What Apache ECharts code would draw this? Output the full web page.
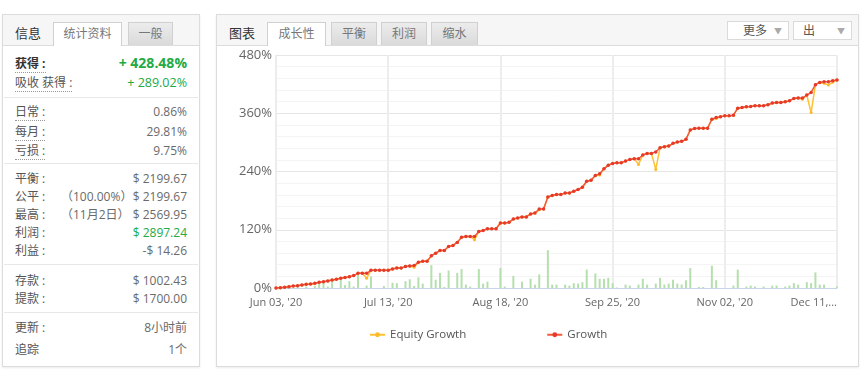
<!DOCTYPE html>
<html>
<head>
<meta charset="utf-8">
<script src="https://cdn.jsdelivr.net/npm/echarts@6/dist/echarts.min.js"></script>
<style>
html,body{margin:0;padding:0;background:#fff;width:862px;height:370px;overflow:hidden;font-family:"Open Sans","Noto Sans CJK SC",sans-serif;}
.panel{position:absolute;border:1px solid #dcdcdc;background:#fff;box-shadow:0 1px 2px rgba(0,0,0,0.08);}
.hdr{position:absolute;left:0;right:0;top:0;height:30px;background:#f6f6f6;border-bottom:1px solid #dcdcdc;}
.t{position:absolute;white-space:nowrap;font-size:12px;line-height:16px;}
.tab{position:absolute;top:7px;height:23px;border:1px solid #d0d0d0;border-bottom:none;font-size:12px;color:#777;text-align:center;line-height:22px;box-sizing:border-box;}
.tab.on{background:#fff;height:24px;}
.tab.off{background:linear-gradient(#ececec,#dadada);}
.lbl{color:#555;}
.val{color:#6a6a6a;text-align:right;}
.dot{border-bottom:1px dotted #999;}
.sep{position:absolute;left:1px;right:1px;height:1px;background:#e8e8e8;}
.dd{position:absolute;top:6px;height:19px;border:1px solid #dadada;background:#fff;box-sizing:border-box;font-size:12px;color:#555;line-height:17px;}
.dd .ar{position:absolute;right:6px;top:0;color:#aaa;font-size:8px;}
#chart{position:absolute;left:0;top:0;width:862px;height:370px;}
</style>
</head>
<body>
<div class="panel" style="left:2px;top:14px;width:196px;height:351px;">
  <div class="hdr"></div>
  <div class="t" style="left:12px;top:10px;color:#333;font-size:13px;">信息</div>
  <div class="tab on" style="left:50px;width:69px;">统计资料</div>
  <div class="tab off" style="left:125px;width:45px;">一般</div>

  <div class="t lbl" style="left:12px;top:41px;color:#333;font-weight:bold;font-size:12px;"><span class="dot">获得 :</span></div>
  <div class="t" style="right:12px;top:40px;color:#22aa44;font-weight:bold;font-size:14px;">+ 428.48%</div>
  <div class="t lbl" style="left:12px;top:60px;"><span class="dot">吸收 获得 :</span></div>
  <div class="t" style="right:12px;top:60px;color:#22aa44;font-size:12.5px;">+ 289.02%</div>
  <div class="sep" style="top:82px;"></div>

  <div class="t lbl" style="left:12px;top:89px;"><span class="dot">日常 :</span></div>
  <div class="t val" style="right:12px;top:89px;">0.86%</div>
  <div class="t lbl" style="left:12px;top:109px;"><span class="dot">每月 :</span></div>
  <div class="t val" style="right:12px;top:109px;">29.81%</div>
  <div class="t lbl" style="left:12px;top:128px;"><span class="dot">亏损 :</span></div>
  <div class="t val" style="right:12px;top:128px;">9.75%</div>
  <div class="sep" style="top:148px;"></div>

  <div class="t lbl" style="left:12px;top:156px;">平衡 :</div>
  <div class="t val" style="right:12px;top:156px;">$ 2199.67</div>
  <div class="t lbl" style="left:12px;top:174px;">公平 :</div>
  <div class="t val" style="left:58px;top:174px;">（100.00%）</div>
  <div class="t val" style="right:12px;top:174px;">$ 2199.67</div>
  <div class="t lbl" style="left:12px;top:192px;">最高 :</div>
  <div class="t val" style="left:58px;top:192px;">（11月2日）</div>
  <div class="t val" style="right:12px;top:192px;">$ 2569.95</div>
  <div class="t lbl" style="left:12px;top:210px;">利润 :</div>
  <div class="t" style="right:12px;top:210px;color:#22aa44;">$ 2897.24</div>
  <div class="t lbl" style="left:12px;top:228px;">利益 :</div>
  <div class="t val" style="right:12px;top:228px;">-$ 14.26</div>
  <div class="sep" style="top:249px;"></div>

  <div class="t lbl" style="left:12px;top:258px;">存款 :</div>
  <div class="t val" style="right:12px;top:258px;">$ 1002.43</div>
  <div class="t lbl" style="left:12px;top:276px;">提款 :</div>
  <div class="t val" style="right:12px;top:276px;">$ 1700.00</div>
  <div class="sep" style="top:297px;"></div>

  <div class="t lbl" style="left:12px;top:305px;">更新 :</div>
  <div class="t val" style="right:12px;top:305px;">8小时前</div>
  <div class="t lbl" style="left:12px;top:327px;">追踪</div>
  <div class="t val" style="right:12px;top:327px;">1个</div>
</div>

<div class="panel" style="left:216px;top:14px;width:641px;height:351px;">
  <div class="hdr"></div>
  <div class="t" style="left:12px;top:10px;color:#333;font-size:13px;">图表</div>
  <div class="tab on" style="left:50px;width:59px;">成长性</div>
  <div class="tab off" style="left:114px;width:46px;">平衡</div>
  <div class="tab off" style="left:164px;width:46px;">利润</div>
  <div class="tab off" style="left:214px;width:47px;">缩水</div>
  <div class="dd" style="left:510px;width:62px;"><span style="position:absolute;left:15px;">更多</span><span class="ar">▼</span></div>
  <div class="dd" style="left:576px;width:59px;"><span style="position:absolute;left:9px;">出</span><span class="ar">▼</span></div>
</div>

<div id="chart"></div>

<script>
const tickLabels = ["Jun 03, '20", "Jul 13, '20", "Aug 18, '20", "Sep 25, '20", "Nov 02, '20", "Dec 11,..."];
const yTicks = [0, 120, 240, 360, 480];

const growth = [
  0, 0.7, 1.4, 2.8, 4.1, 4.8, 6.2, 7.6, 8.3, 9.7,
  11.7, 13.1, 14.5, 16.6, 18.0, 20.0, 21.4, 23.4, 25.5, 30.3,
  30.3, 30.3, 36.5, 36.5, 36.5, 36.5, 36.5, 39.3, 41.4, 41.4,
  44.1, 45.5, 46.2, 53.1, 55.2, 55.2, 66.2, 71.7, 77.2, 77.2,
  85.5, 87.6, 93.8, 104.8, 106.2, 106.2, 106.2, 116.5, 118.6, 122.1,
  122.1, 122.1, 133.8, 133.8, 135.2, 142.1, 144.2, 146.3, 146.3, 152.5,
  154.5, 162.8, 162.8, 187.6, 190.4, 192.4, 192.4, 195.9, 195.9, 199.4,
  202.8, 207.6, 220.0, 222.1, 231.7, 235.2, 245.5, 253.1, 256.6, 258.0,
  258.0, 261.4, 264.9, 266.3, 266.3, 273.9, 277.3, 277.3, 280.1, 289.0,
  291.1, 292.5, 298.0, 300.7, 302.1, 306.3, 325.6, 328.4, 329.1, 329.1,
  329.1, 347.7, 351.2, 352.6, 354.6, 354.6, 356.0, 370.5, 371.9, 373.3,
  374.0, 375.4, 375.4, 375.4, 377.4, 380.9, 382.3, 382.3, 383.6, 385.7,
  390.5, 391.2, 391.2, 397.4, 402.9, 418.8, 423.6, 425.0, 425.0, 427.1,
  428.5
];

const equityGrowth = [
  0, 0.7, 1.4, 2.8, 4.1, 4.8, 6.2, 7.6, 8.3, 8.5,
  11.7, 13.1, 14.5, 16.6, 18.0, 20.0, 21.4, 23.4, 25.5, 30.3,
  30.3, 20.0, 36.5, 36.5, 36.5, 36.5, 36.5, 39.3, 41.4, 41.4,
  44.1, 45.5, 42.7, 53.1, 55.2, 55.2, 66.2, 71.7, 77.2, 77.2,
  85.5, 87.6, 93.8, 104.8, 106.2, 106.2, 99.3, 116.5, 118.6, 122.1,
  122.1, 122.1, 133.8, 133.8, 135.2, 142.1, 144.2, 146.3, 146.3, 152.5,
  154.5, 161.0, 162.8, 187.6, 190.4, 192.4, 192.4, 195.9, 195.9, 199.4,
  202.8, 207.6, 220.0, 222.1, 231.7, 233.0, 245.5, 253.1, 256.6, 258.0,
  258.0, 261.4, 264.9, 266.3, 254.6, 273.9, 277.3, 277.3, 244.3, 289.0,
  291.1, 292.5, 298.0, 300.7, 302.1, 306.3, 325.6, 328.4, 329.1, 329.1,
  329.1, 347.7, 349.0, 352.6, 354.6, 354.6, 356.0, 370.5, 371.9, 373.3,
  374.0, 375.4, 375.4, 375.4, 377.4, 380.9, 382.3, 382.3, 383.6, 385.7,
  390.5, 391.2, 389.0, 397.4, 361.3, 418.8, 423.6, 422.0, 418.0, 424.0,
  428.5
];

const dailyBars = [
  0, 0, 0, 0, 0, 2, 0, 3, 0, 4,
  9, 11, 3, 14, 0, 18, 6, 14, 3, 28,
  0, 5, 24, 0, 0, 4, 0, 11, 10, 0,
  14, 18, 4, 22, 9, 0, 47, 17, 31, 2,
  36, 0, 31, 39, 7, 3, 0, 39, 9, 13,
  0, 0, 41, 3, 0, 25, 0, 13, 0, 19,
  7, 28, 0, 78, 7, 7, 0, 7, 5, 10,
  9, 12, 38, 0, 30, 19, 19, 21, 10, 1,
  0, 7, 5, 0, 7, 19, 7, 0, 9, 21,
  7, 9, 17, 9, 7, 16, 41, 0, 2, 2,
  0, 46, 16, 0, 0, 0, 5, 38, 0, 3,
  5, 3, 0, 3, 0, 5, 5, 0, 3, 5,
  10, 7, 0, 12, 10, 32, 7, 7, 0, 0,
  3
];

const categories = growth.map((_, i) => i);
const labelEvery = 26;

const chart = echarts.init(document.getElementById('chart'), null, {renderer: 'canvas'});
chart.setOption({
  animation: false,
  backgroundColor: 'transparent',
  textStyle: {fontFamily: '"Open Sans", "Noto Sans CJK SC", sans-serif'},
  grid: {left: 276, top: 55, width: 561, height: 233, containLabel: false},
  legend: {
    data: ['Equity Growth', 'Growth'],
    left: 364, top: 324,
    itemGap: 80, itemWidth: 15, itemHeight: 6,
    textStyle: {color: '#555', fontSize: 11.5}
  },
  xAxis: {
    type: 'category',
    data: categories,
    boundaryGap: false,
    axisLine: {show: true, lineStyle: {color: '#c8d4ea', width: 1}},
    axisTick: {show: false},
    axisLabel: {
      interval: labelEvery - 1,
      color: '#666', fontSize: 11, margin: 9,
      alignMaxLabel: 'right',
      formatter: function (v, idx) { return tickLabels[Math.round(idx / labelEvery)] || ''; }
    },
    splitLine: {show: true, interval: labelEvery - 1, lineStyle: {color: '#ededed', width: 2}}
  },
  yAxis: {
    type: 'value',
    min: yTicks[0], max: yTicks[yTicks.length - 1], interval: 120,
    axisLine: {show: true, lineStyle: {color: '#ececec'}},
    axisTick: {show: false},
    axisLabel: {color: '#666', fontSize: 13, margin: 4, formatter: '{value}%'},
    splitLine: {show: true, lineStyle: {color: '#e6e6e6', width: 1}},
    minorTick: {show: false, splitNumber: 5},
    minorSplitLine: {show: true, lineStyle: {color: '#f4f4f4', width: 1}}
  },
  series: [
    {
      name: 'Daily',
      type: 'bar',
      data: dailyBars,
      barWidth: 2,
      silent: true,
      itemStyle: {color: '#b5dfac'},
      z: 1
    },
    {
      name: 'Equity Growth',
      type: 'line',
      data: equityGrowth,
      symbol: 'circle', symbolSize: 3,
      showAllSymbol: true,
      lineStyle: {color: '#fdc133', width: 1.5},
      itemStyle: {color: '#fdb92a'},
      z: 2
    },
    {
      name: 'Growth',
      type: 'line',
      data: growth,
      symbol: 'circle', symbolSize: 3.5,
      showAllSymbol: true,
      lineStyle: {color: '#f25a3a', width: 1.5},
      itemStyle: {color: '#e63a2c'},
      z: 3
    }
  ]
});
</script>
</body>
</html>
